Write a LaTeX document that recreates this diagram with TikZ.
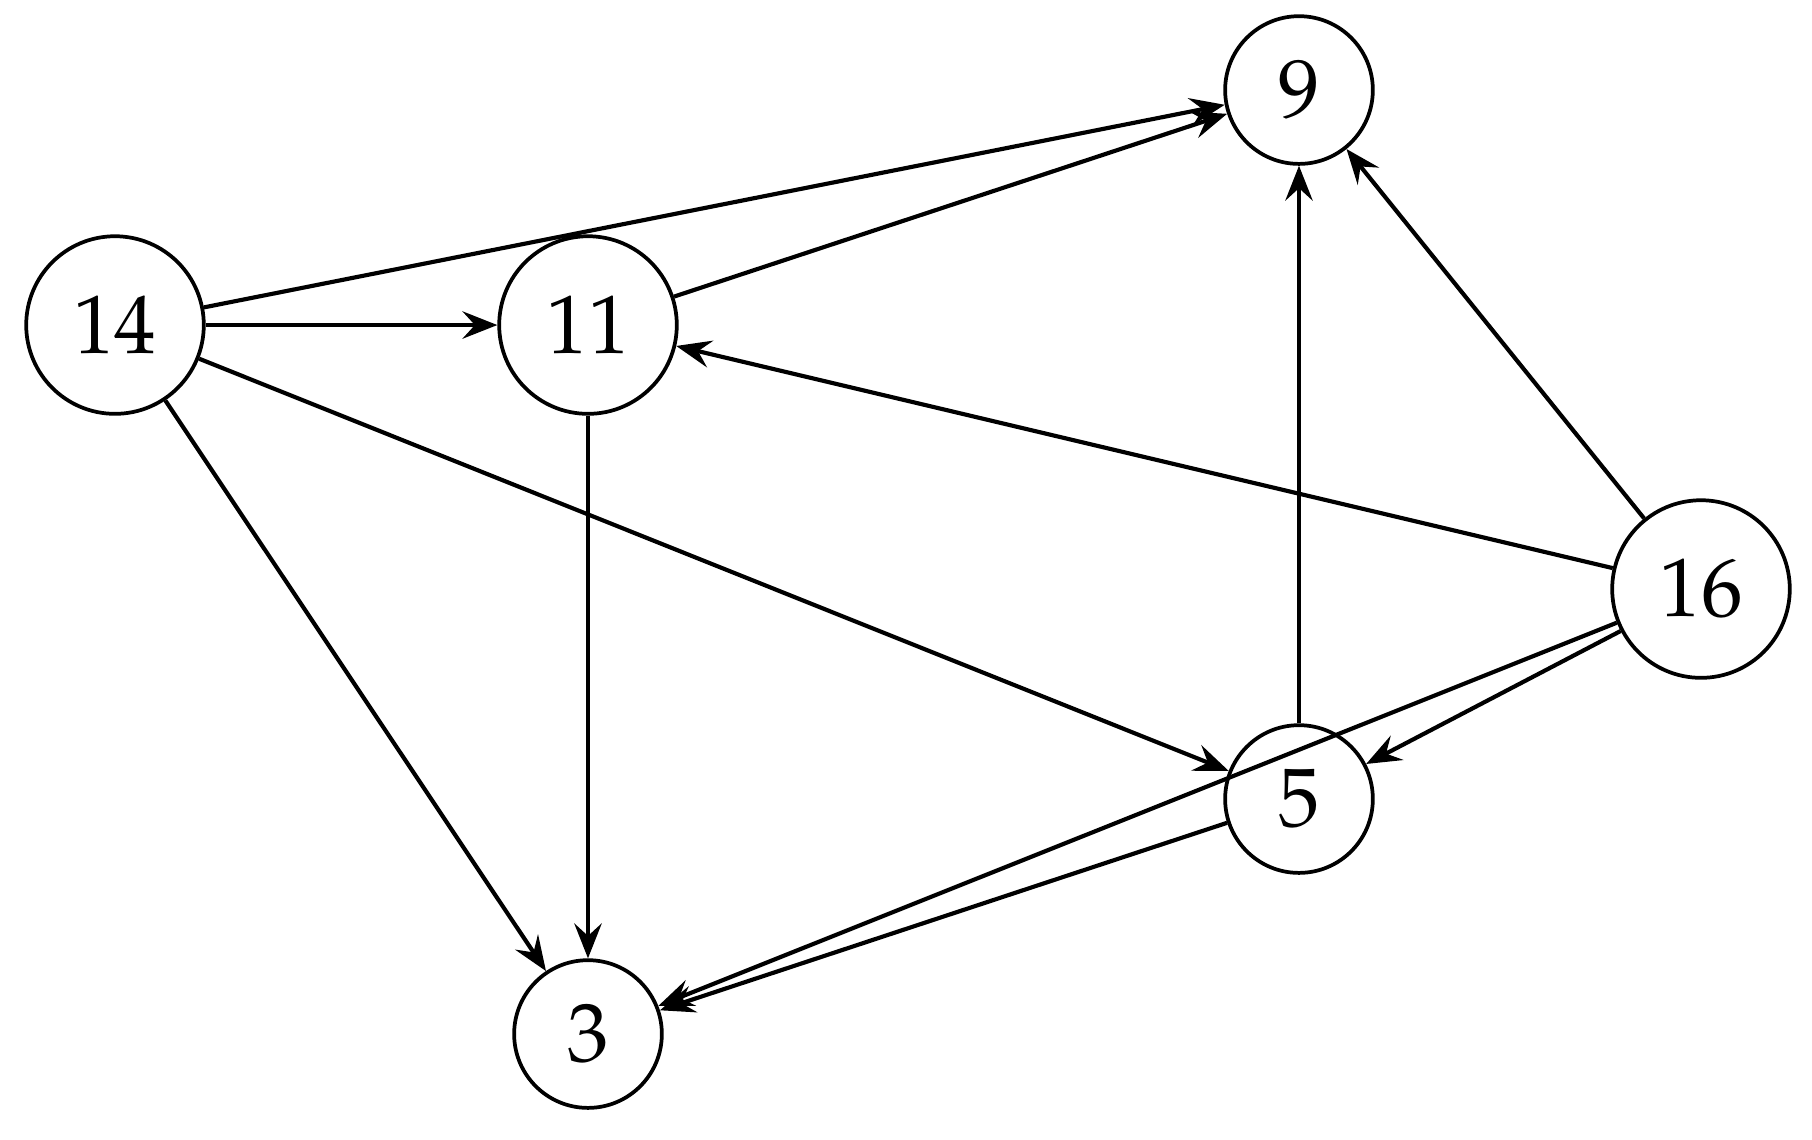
\documentclass[tikz,border=0pt]{standalone}
\usepackage[T1]{fontenc}
\usepackage{mathpazo}
\usetikzlibrary{arrows.meta}
\begin{document}
\begin{tikzpicture}[x=0.1205pt,y=-0.1205pt,
  vtx/.style={circle,draw,line width=0.45pt,inner sep=0pt,font=\fontsize{10pt}{12pt}\selectfont},
  bigv/.style={vtx,minimum size=21.4pt},
  smallv/.style={vtx,minimum size=17.8pt},
  edge/.style={-{Stealth[length=4.2pt,width=3.3pt,inset=1.5pt]},line width=0.5pt}]
\useasboundingbox (0,0) rectangle (1812,1139);
\node[bigv] (n14) at (115,325) {14};
\node[bigv] (n11) at (588,325) {11};
\node[bigv] (n16) at (1701,589) {16};
\node[smallv] (n9) at (1299,90) {9};
\node[smallv] (n5) at (1299,799) {5};
\node[smallv] (n3) at (588,1034) {3};
\draw[edge] (n14) -- (n9);
\draw[edge] (n11) -- (n9);
\draw[edge] (n14) -- (n11);
\draw[edge] (n14) -- (n5);
\draw[edge] (n14) -- (n3);
\draw[edge] (n11) -- (n3);
\draw[edge] (n16) -- (n9);
\draw[edge] (n16) -- (n11);
\draw[edge] (n16) -- (n5);
\draw[edge] (n16) -- (n3);
\draw[edge] (n5) -- (n9);
\draw[edge] (n5) -- (n3);
\end{tikzpicture}
\end{document}
